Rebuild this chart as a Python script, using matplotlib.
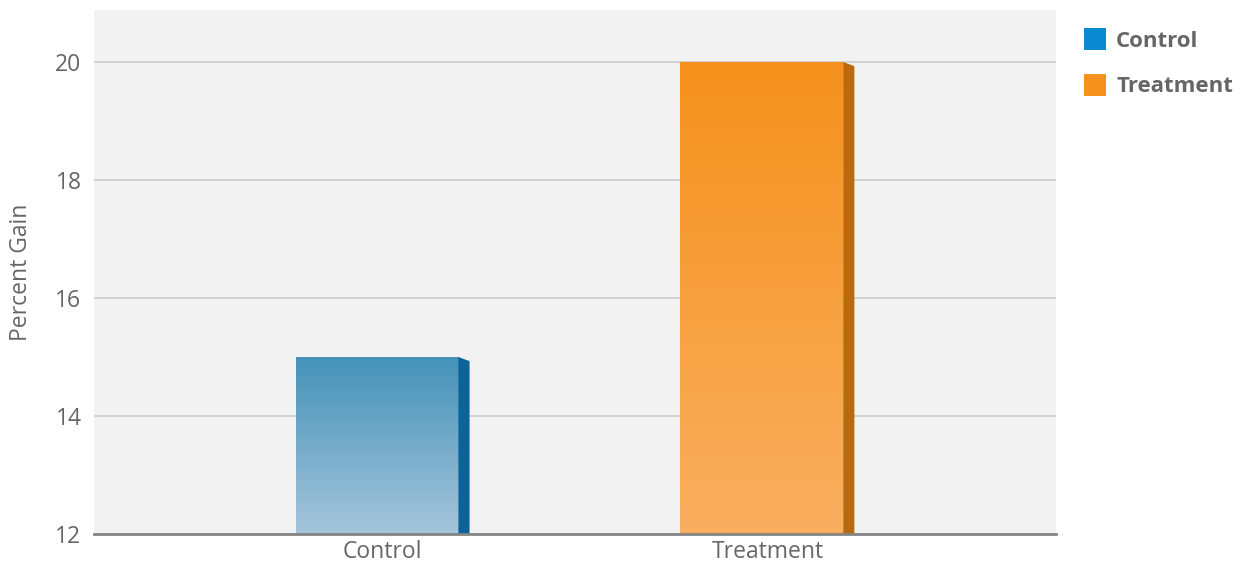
import numpy as np
import matplotlib.pyplot as plt
from matplotlib.patches import Polygon, Patch
from matplotlib.colors import LinearSegmentedColormap

plt.rcParams['font.family'] = ['Open Sans', 'DejaVu Sans']

categories = ['Control', 'Treatment']
values = [15, 20]
y_ticks = [12, 14, 16, 18, 20]

# top/bottom gradient colours and side colour for each bar
top_colors = ['#4592b8', '#f5911c']
bottom_colors = ['#a5c5db', '#faaf60']
side_colors = ['#0b6399', '#b86a10']
legend_colors = ['#0a8ad0', '#f5921e']

text_gray = '#666666'

fig = plt.figure(figsize=(12.44, 5.67), dpi=100)
ax = fig.add_axes([94 / 1244, 33 / 567, 962 / 1244, 524 / 567])
ax.set_facecolor('#f2f2f2')

ymin = 12
ymax = 12 + 524 / 59

front_w = 0.423
side_w = 0.029
x_pos = np.arange(len(categories))

for i, v in enumerate(values):
    x0 = x_pos[i] - (front_w + side_w) / 2
    x1 = x0 + front_w
    cmap = LinearSegmentedColormap.from_list('g', [bottom_colors[i], top_colors[i]])
    grad = np.linspace(0, 1, 256).reshape(-1, 1)
    ax.imshow(grad, cmap=cmap, origin='lower', aspect='auto',
              extent=[x0, x1, ymin, v], zorder=3)
    # side face, slanted at top
    drop = 0.07
    side = Polygon([[x1, v], [x1 + side_w, v - drop], [x1 + side_w, ymin], [x1, ymin]],
                   closed=True, facecolor=side_colors[i], edgecolor='none', zorder=3)
    ax.add_patch(side)

ax.set_ylim(ymin, ymax)
ax.set_xlim(-0.75, 1.75)

ax.set_yticks(y_ticks)
ax.set_xticks(x_pos)
ax.set_xticklabels(categories)
ax.yaxis.grid(True, color='#cccccc', linewidth=1.2, zorder=1)
ax.set_axisbelow(True)
ax.tick_params(length=0, labelsize=16.5, labelcolor=text_gray, pad=9)
ax.tick_params(axis='x', pad=4)

for s in ['top', 'right', 'left']:
    ax.spines[s].set_visible(False)
ax.spines['bottom'].set_color('#858585')
ax.spines['bottom'].set_linewidth(2)
ax.spines['bottom'].set_zorder(5)

ax.set_ylabel('Percent Gain', fontsize=16.5, color=text_gray, labelpad=16)

handles = [Patch(facecolor=c, edgecolor='none') for c in legend_colors]
leg = fig.legend(handles, categories, loc='upper left', bbox_to_anchor=(1084 / 1244, 1 - 28 / 567),
                 frameon=False, borderpad=0, borderaxespad=0, handlelength=1.0, handleheight=1.15,
                 labelspacing=1.0, handletextpad=0.45, prop={'size': 16, 'weight': 'bold'})
for t in leg.get_texts():
    t.set_color(text_gray)

fig.savefig('out.png', dpi=100)
